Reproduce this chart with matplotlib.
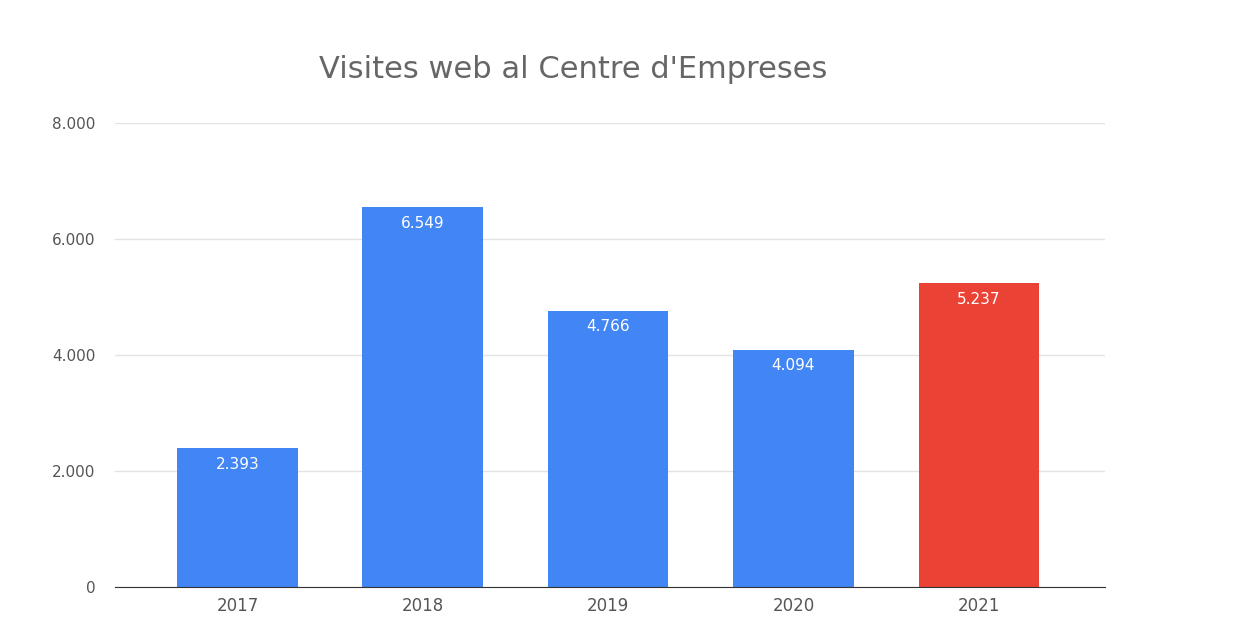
import matplotlib.pyplot as plt

# Dades
anys = ['2017', '2018', '2019', '2020', '2021']
visites = [2393, 6549, 4766, 4094, 5237]
etiquetes = ['2.393', '6.549', '4.766', '4.094', '5.237']
colors = ['#4285F4', '#4285F4', '#4285F4', '#4285F4', '#EA4335']
yticks = [0, 2000, 4000, 6000, 8000]
ytick_labels = ['0', '2.000', '4.000', '6.000', '8.000']

fig = plt.figure(figsize=(12.56, 6.29), dpi=100)
ax = fig.add_axes([0.0916, 0.0668, 0.788, 0.7372])

x = range(len(anys))
bars = ax.bar(x, visites, width=0.65, color=colors, zorder=3)

for b, lab in zip(bars, etiquetes):
    ax.text(b.get_x() + b.get_width() / 2, b.get_height() - 150, lab,
            ha='center', va='top', color='white', fontsize=11, zorder=4)

ax.set_xlim(-0.66, 4.68)
ax.set_ylim(0, 8000)
ax.set_xticks(list(x))
ax.set_xticklabels(anys, fontsize=12, color='#555555')
ax.set_yticks(yticks)
ax.set_yticklabels(ytick_labels, fontsize=11, color='#555555')
ax.tick_params(length=0, pad=14)
ax.tick_params(axis='x', pad=7)

ax.grid(axis='y', color='#e3e3e3', linewidth=1, zorder=0)
for s in ['top', 'right', 'left']:
    ax.spines[s].set_visible(False)
ax.spines['bottom'].set_color('#333333')
ax.spines['bottom'].set_zorder(5)

fig.text(573 / 1256, 1 - 69 / 629, "Visites web al Centre d'Empreses",
         ha='center', va='center', fontsize=22, color='#666666')

fig.savefig('out.png', dpi=100)
